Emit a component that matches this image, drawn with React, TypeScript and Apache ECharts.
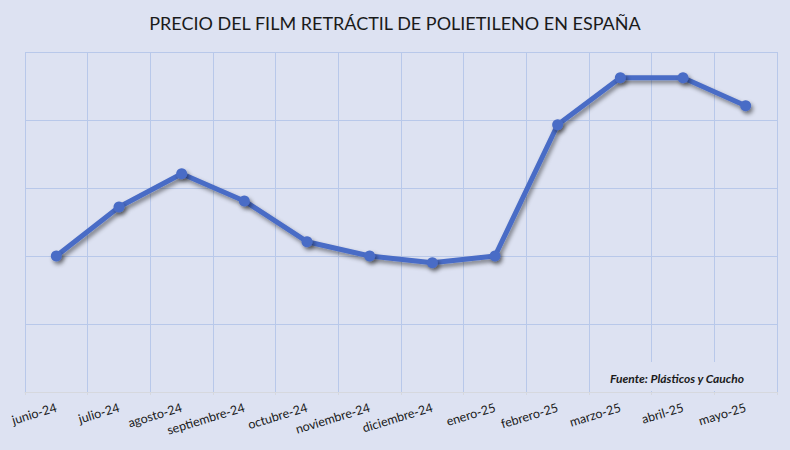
import React, { useEffect, useRef } from "react";
import * as echarts from "echarts";

const months = [
  "junio-24", "julio-24", "agosto-24", "septiembre-24", "octubre-24", "noviembre-24",
  "diciembre-24", "enero-25", "febrero-25", "marzo-25", "abril-25", "mayo-25",
];
const prices = [2.0, 2.72, 3.21, 2.81, 2.21, 2.0, 1.9, 2.0, 3.93, 4.62, 4.62, 4.21];
const titleText = "PRECIO DEL FILM RETRÁCTIL DE POLIETILENO EN ESPAÑA";
const sourceText = "Fuente: Plásticos y Caucho";

export default function App() {
  const ref = useRef<HTMLDivElement>(null);
  useEffect(() => {
    if (!ref.current) return;
    const chart = echarts.init(ref.current, undefined, { renderer: "svg" });
    const bg = "#dde2f2";
    const gridColor = "#b8c8ea";
    chart.setOption({
      animation: false,
      backgroundColor: bg,
      title: {
        text: titleText,
        left: "center",
        top: 9,
        textStyle: { fontFamily: "Lato", fontSize: 18, fontWeight: "normal", color: "#1a1a1a" },
      },
      grid: { left: 25, right: 13, top: 52, bottom: 58 },
      xAxis: {
        type: "category",
        data: months,
        boundaryGap: true,
        axisLine: { show: true, lineStyle: { color: "#d6d8de", width: 1 } },
        axisTick: { show: true, length: 3, lineStyle: { color: "#d6d8de" } },
        splitLine: { show: true, lineStyle: { color: gridColor, width: 1 } },
        axisLabel: {
          rotate: 17,
          margin: 15,
          interval: 0,
          fontFamily: "Lato",
          fontSize: 12.5,
          color: "#1a1a1a",
        },
      },
      yAxis: {
        type: "value",
        min: 0,
        max: 5,
        interval: 1,
        axisLabel: { show: false },
        axisLine: { show: false },
        axisTick: { show: false },
        splitLine: { show: true, lineStyle: { color: gridColor, width: 1 } },
      },
      graphic: [
        {
          type: "rect",
          shape: { x: 600, y: 362, width: 170, height: 29 },
          style: { fill: bg },
          z: 10,
        },
        {
          type: "text",
          x: 744,
          y: 378,
          style: {
            text: sourceText,
            align: "right",
            verticalAlign: "middle",
            fontFamily: "Lato",
            fontSize: 12,
            fontWeight: "bold",
            fontStyle: "italic",
            fill: "#1a1a1a",
          },
          z: 11,
        },
      ],
      series: [
        {
          type: "line",
          data: prices,
          symbol: "circle",
          symbolSize: 11,
          itemStyle: {
            color: "#4a6cc6",
            shadowColor: "rgba(0,0,0,0.45)",
            shadowBlur: 4,
            shadowOffsetX: 2,
            shadowOffsetY: 3,
          },
          lineStyle: {
            color: "#4a6cc6",
            width: 5,
            shadowColor: "rgba(0,0,0,0.45)",
            shadowBlur: 4,
            shadowOffsetX: 2,
            shadowOffsetY: 3,
          },
          z: 5,
        },
      ],
    });
    return () => chart.dispose();
  }, []);
  return (
    <div
      ref={ref}
      style={{ position: "fixed", left: 0, top: 0, width: 790, height: 450 }}
    />
  );
}
